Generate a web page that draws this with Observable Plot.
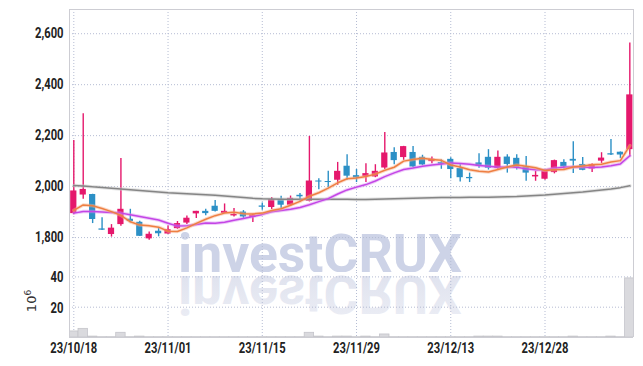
<!DOCTYPE html>
<html><head><meta charset="utf-8">
<script src="https://cdn.jsdelivr.net/npm/d3@7"></script>
<script src="https://cdn.jsdelivr.net/npm/@observablehq/plot@0.6"></script>
<style>
body{margin:0;background:#fff;}
#chart{position:relative;width:643px;height:366px;overflow:hidden;}
#chart svg{display:block;}
</style></head><body><div id="chart"></div>
<script>
const dates = ["2023-10-18","2023-10-19","2023-10-20","2023-10-23","2023-10-24","2023-10-25","2023-10-26","2023-10-27","2023-10-30","2023-10-31",
"2023-11-01","2023-11-02","2023-11-03","2023-11-06","2023-11-07","2023-11-08","2023-11-09","2023-11-10","2023-11-13","2023-11-14",
"2023-11-15","2023-11-16","2023-11-17","2023-11-20","2023-11-21","2023-11-22","2023-11-23","2023-11-24","2023-11-27","2023-11-28",
"2023-11-29","2023-11-30","2023-12-01","2023-12-04","2023-12-05","2023-12-06","2023-12-07","2023-12-08","2023-12-11","2023-12-12",
"2023-12-13","2023-12-14","2023-12-15","2023-12-18","2023-12-19","2023-12-20","2023-12-21","2023-12-22","2023-12-26","2023-12-27",
"2023-12-28","2023-12-29","2024-01-02","2024-01-03","2024-01-04","2024-01-05","2024-01-08","2024-01-09","2024-01-10","2024-01-11"];
const open  = [1894,1967,1969,1834,1812,1851,1872,1860,1795,1825, 1814,1835,1857,1893,1903,1923,1895,1885,1900,1879, 1924,1918,1950,1927,1966,1942,2022,2020,2025,2080, 2043,2040,2038,2073,2134,2114,2134,2115,2098,2094, 2107,2071,2036,2093,2115,2072,2116,2111,2077,2038, 2029,2055,2095,2107,2087,2069,2100,2129,2135,2145];
const high  = [2181,2286,1970,1878,1851,2110,1911,1864,1822,1839, 1845,1863,1885,1903,1911,1946,1932,1914,1906,1892, 1936,1957,1962,1963,1973,2197,2031,2060,2095,2125, 2067,2090,2086,2212,2153,2158,2157,2123,2116,2105, 2113,2086,2053,2129,2145,2140,2125,2125,2118,2060, 2062,2104,2105,2176,2114,2090,2133,2185,2136,2564];
const low   = [1890,1950,1855,1828,1802,1844,1858,1804,1790,1803, 1813,1833,1851,1875,1886,1900,1895,1881,1873,1859, 1907,1910,1910,1922,1940,1940,1988,1996,2005,2025, 2016,2016,2035,2067,2086,2103,2073,2082,2090,2068, 2031,2018,2016,2072,2065,2065,2053,2065,2021,2021, 2025,2050,2068,2051,2062,2055,2090,2122,2110,2116];
const close = [1983,1989,1871,1829,1837,1911,1863,1805,1813,1815, 1831,1855,1876,1903,1894,1903,1903,1891,1881,1888, 1919,1949,1927,1954,1960,2022,2018,2016,2060,2041, 2034,2051,2060,2132,2102,2157,2077,2085,2108,2088, 2067,2035,2031,2080,2072,2115,2087,2072,2053,2044, 2060,2102,2077,2100,2064,2086,2112,2124,2124,2360];
const volume = [4.0,5.7,0.6,0.2,0.2,3.1,0.2,0.6,0.2,0.2, 0.2,0.2,0.2,0.2,0.2,0.2,0.2,0.2,0.2,0.2, 0.2,0.2,0.2,0.2,0.2,3.1,0.6,0.2,0.6,0.6, 0.2,0.6,0.2,2.0,0.2,0.2,0.2,0.2,0.2,0.2, 0.2,0.2,0.2,0.6,0.6,0.6,0.2,0.2,0.2,0.2, 0.2,0.2,0.2,0.6,0.2,0.2,0.2,0.6,0.2,39.0];
const ma5  = [1907,1928,1925,1914,1902,1887,1862,1849,1846,1841, 1825,1824,1838,1856,1872,1886,1896,1899,1894,1893, 1896,1906,1913,1927,1942,1962,1976,1994,2015,2031, 2034,2040,2049,2064,2076,2100,2106,2111,2106,2103, 2085,2077,2066,2060,2057,2067,2077,2085,2080,2074, 2063,2066,2067,2077,2081,2086,2088,2097,2102,2161];
const ma10 = [1896,1902,1902,1900,1898,1896,1890,1883,1876,1869, 1856,1845,1846,1851,1857,1856,1860,1868,1875,1883, 1891,1901,1906,1911,1918,1929,1941,1953,1971,1987, 1998,2008,2022,2039,2054,2067,2073,2080,2085,2089, 2093,2091,2088,2083,2080,2076,2077,2076,2070,2066, 2065,2072,2076,2078,2077,2075,2077,2082,2089,2121];
const maLong = [2004,2002,1999,1997,1994,1991,1988,1985,1982,1979, 1976,1974,1972,1970,1968,1966,1963,1960,1957,1954, 1952,1951,1950,1950,1950,1950,1950,1950,1950,1950, 1949,1949,1950,1951,1952,1953,1954,1955,1956,1957, 1957,1957,1958,1958,1958,1959,1960,1961,1963,1965, 1967,1970,1973,1976,1979,1983,1987,1991,1996,2003];
const tickIndex = [0,10,20,30,40,50];
const tickLabels = ["23/10/18","23/11/01","23/11/15","23/11/29","23/12/13","23/12/28"];
const priceTicks = [1800,2000,2200,2400,2600];
const volumeTicks = [20,40];

const rows = dates.map((d,i)=>({i, date:d, open:open[i], high:high[i], low:low[i], close:close[i], vol:volume[i], ma5:ma5[i], ma10:ma10[i], maL:maLong[i]}));
const pink = "#e5186c", blue = "#2c90c6";
const colorOf = d => d.close >= d.open ? pink : blue;
const xDomain = [-0.456, rows.length - 1 + 0.39];
const fontFam = 'Roboto, "Liberation Sans", sans-serif';
const gridStyle = {stroke:"#b5bcd3", strokeOpacity:1, strokeDasharray:"1,2", strokeWidth:1};
const frameColor = "#cdcdd3";
const axisText = {fontSize:14, fontWeight:"bold", fill:"#222"};

const main = Plot.plot({
  width:643, height:272, marginLeft:69, marginRight:10, marginTop:9, marginBottom:0,
  style:{fontFamily:fontFam, fontSize:"14px", color:"#222", background:"transparent"},
  x:{type:"linear", domain:xDomain, axis:null, label:null},
  y:{domain:[1663,2695], axis:null, label:null},
  marks:[
    Plot.gridY(priceTicks, gridStyle),
    Plot.gridX(tickIndex, gridStyle),
    Plot.frame({stroke:frameColor}),
    Plot.axisY(priceTicks, {anchor:"left", label:null, tickSize:0, tickPadding:6, tickFormat:d3.format(","), ...axisText}),
    Plot.ruleX(rows, {x:"i", y1:"low", y2:"high", stroke:colorOf, strokeWidth:1.4}),
    Plot.rect(rows, {x1:d=>d.i-0.33, x2:d=>d.i+0.33, y1:"open", y2:"close", fill:colorOf}),
    Plot.line(rows, {x:"i", y:"maL", stroke:"#c8c8c8", strokeWidth:3.5, strokeOpacity:0.5}),
    Plot.line(rows, {x:"i", y:"maL", stroke:"#858585", strokeWidth:1.5}),
    Plot.line(rows, {x:"i", y:"ma10", stroke:"#d98cf2", strokeWidth:3.5, strokeOpacity:0.45}),
    Plot.line(rows, {x:"i", y:"ma10", stroke:"#c445e6", strokeWidth:1.5}),
    Plot.line(rows, {x:"i", y:"ma5", stroke:"#f6b08a", strokeWidth:3.5, strokeOpacity:0.45}),
    Plot.line(rows, {x:"i", y:"ma5", stroke:"#ee7f42", strokeWidth:1.5})
  ]
});

const vol = Plot.plot({
  width:643, height:94, marginLeft:69, marginRight:10, marginTop:0, marginBottom:29,
  style:{fontFamily:fontFam, fontSize:"14px", color:"#222", background:"transparent", overflow:"visible"},
  x:{type:"linear", domain:xDomain, axis:null, label:null},
  y:{domain:[0,42.9], axis:null, label:null},
  marks:[
    Plot.gridY(volumeTicks, gridStyle),
    Plot.gridX(tickIndex, gridStyle),
    Plot.rect(rows, {x1:d=>d.i-0.5, x2:d=>d.i+0.5, y1:0, y2:"vol", fill:"#dadade", stroke:"#c4c4ca", strokeWidth:0.8, clip:true}),
    Plot.ruleX([xDomain[0], xDomain[1]], {stroke:frameColor}),
    Plot.ruleY([0], {stroke:frameColor}),
    Plot.axisY(volumeTicks, {anchor:"left", label:null, tickSize:0, tickPadding:6, dy:1, ...axisText}),
    Plot.axisX(tickIndex, {anchor:"bottom", label:null, tickSize:0, tickPadding:6, tickFormat:d=>tickLabels[tickIndex.indexOf(d)], ...axisText})
  ]
});

const host = document.getElementById("chart");
host.appendChild(main);
host.appendChild(vol);

// condense axis label glyphs (narrow face in the reference)
for (const svg of [main, vol]) {
  d3.select(svg).selectAll('g[aria-label$="tick label"] text').each(function() {
    const len = this.getComputedTextLength();
    this.setAttribute("textLength", (len * 0.8).toFixed(1));
    this.setAttribute("lengthAdjust", "spacingAndGlyphs");
  });
}

// watermark
const ms = d3.select(main);
ms.insert("text", "g")
  .attr("x", 178).attr("y", 272)
  .attr("text-anchor", "start")
  .attr("font-family", "Roboto, 'DejaVu Sans', sans-serif")
  .attr("font-weight", 700).attr("font-size", 54)
  .attr("textLength", 284).attr("lengthAdjust", "spacingAndGlyphs")
  .attr("fill", "#cdd3e7")
  .text("investCRUX");

const vs = d3.select(vol);
const defs = vs.insert("defs", "g");
const grad = defs.append("linearGradient").attr("id","wmfade").attr("gradientUnits","userSpaceOnUse")
  .attr("x1",0).attr("y1",3).attr("x2",0).attr("y2",-52);
grad.append("stop").attr("offset","0").attr("stop-color","#dfe2ee").attr("stop-opacity",1);
grad.append("stop").attr("offset","1").attr("stop-color","#dfe2ee").attr("stop-opacity",0.55);
vs.insert("g", "g").attr("transform","translate(0,4) scale(1,-1)")
  .append("text")
  .attr("x", 178).attr("y", 0)
  .attr("text-anchor", "start")
  .attr("font-family", "Roboto, 'DejaVu Sans', sans-serif")
  .attr("font-weight", 700).attr("font-size", 54)
  .attr("textLength", 284).attr("lengthAdjust", "spacingAndGlyphs")
  .attr("fill", "url(#wmfade)")
  .text("investCRUX");

// volume unit label
const ul = vs.append("text")
  .attr("transform", "translate(36,29) rotate(-90)")
  .attr("text-anchor", "middle")
  .attr("font-family", "'DejaVu Sans', sans-serif")
  .attr("font-size", 13).attr("fill", "#333");
ul.append("tspan").text("10");
ul.append("tspan").attr("dy", -5).attr("font-size", 9).text("6");
</script>
</body></html>
